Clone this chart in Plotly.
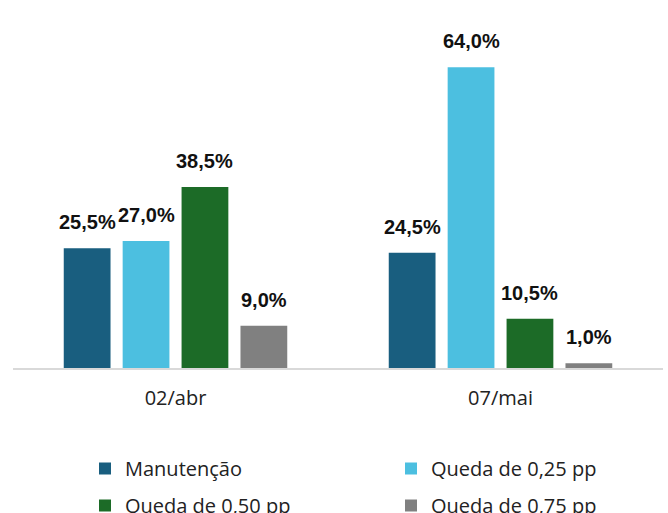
import plotly.graph_objects as go

categories = ["02/abr", "07/mai"]
series_names = ["Manutenção", "Queda de 0,25 pp", "Queda de 0,50 pp", "Queda de 0,75 pp"]
manutencao = [25.5, 24.5]
queda_025 = [27.0, 64.0]
queda_050 = [38.5, 10.5]
queda_075 = [9.0, 1.0]
series_values = [manutencao, queda_025, queda_050, queda_075]
colors = ["#195e7f", "#4cbfe0", "#1c6b27", "#808080"]
legend_ids = ["legend", "legend", "legend2", "legend2"]

W, H = 668, 513
ML, MR, MT, MB = 13, 5, 30, 145
plot_w = W - ML - MR
plot_h = H - MT - MB
n_series = len(series_names)
bargap = 0.275
bargroupgap = 0.206
slot_px = plot_w / len(categories) * (1 - bargap) / n_series

fig = go.Figure()
for i, (name, vals, col, lg) in enumerate(zip(series_names, series_values, colors, legend_ids)):
    fig.add_trace(go.Bar(
        x=categories, y=vals, name=name, marker_color=col,
        marker_line_width=0, legend=lg,
    ))
    for c, v in zip(categories, vals):
        fig.add_annotation(
            x=c, y=v, xref="x", yref="y",
            text=f"{v:.1f}%".replace(".", ","),
            showarrow=False, yanchor="bottom",
            xshift=(i - (n_series - 1) / 2) * slot_px, yshift=13,
            font=dict(family="Liberation Sans, Arial", size=20, color="#111111", weight="bold"),
        )

legend_font = dict(family="Open Sans", size=20, color="#222222")
legend_x = (85 - ML) / plot_w
fig.update_layout(
    width=W, height=H,
    margin=dict(l=ML, r=MR, t=MT, b=MB, autoexpand=False),
    barmode="group", bargap=bargap, bargroupgap=bargroupgap,
    paper_bgcolor="white", plot_bgcolor="white",
    xaxis=dict(
        showline=True, linecolor="#d9d9d9", linewidth=1.5,
        showgrid=False, ticks="", zeroline=False, ticklabelstandoff=11,
        tickfont=dict(family="Open Sans", size=20, color="#222222"),
    ),
    yaxis=dict(visible=False, range=[0, 71.9]),
    legend=dict(
        orientation="h", x=legend_x, xanchor="left", y=-(449 - (H - MB)) / plot_h, yanchor="top",
        entrywidth=261, entrywidthmode="pixels",
        font=legend_font, bgcolor="rgba(0,0,0,0)",
    ),
    legend2=dict(
        orientation="h", x=legend_x, xanchor="left", y=-(486 - (H - MB)) / plot_h, yanchor="top",
        entrywidth=261, entrywidthmode="pixels",
        font=legend_font, bgcolor="rgba(0,0,0,0)",
    ),
    showlegend=True,
)

fig.write_html("out.html", config={"displayModeBar": False},
               post_script="document.body.style.margin='0';")
